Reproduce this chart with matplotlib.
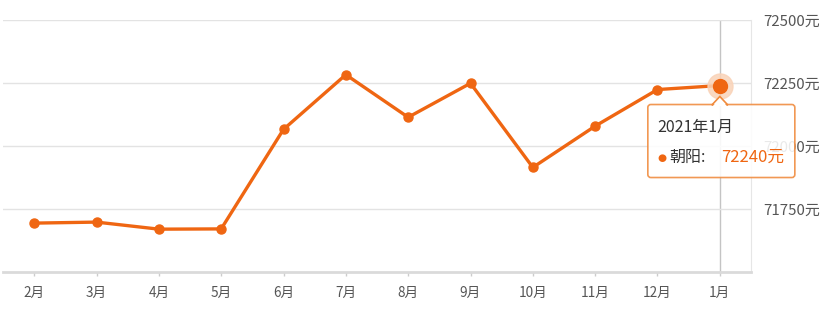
import matplotlib
matplotlib.use("Agg")
import matplotlib.pyplot as plt
from matplotlib.patches import FancyBboxPatch, Polygon
from matplotlib.transforms import IdentityTransform

plt.rcParams['font.family'] = ['Noto Sans CJK SC', 'DejaVu Sans']

# data
months = ['2月', '3月', '4月', '5月', '6月', '7月', '8月', '9月', '10月', '11月', '12月', '1月']
prices = [71694, 71698, 71670, 71671, 72066, 72283, 72114, 72249, 71915, 72079, 72224, 72240]
y_ticks = [71500, 71750, 72000, 72250, 72500]
district = '朝阳'
hover_label = '2021年1月'

ORANGE = '#ef6612'
TEXT = '#555555'
W, H = 827, 310

fig = plt.figure(figsize=(W / 100, H / 100), dpi=100)
ax = fig.add_axes([3 / W, 1 - 272 / H, 748 / W, 252 / H])
x = list(range(len(months)))

ax.set_xlim(-0.5, len(months) - 0.5)
ax.set_ylim(y_ticks[0], y_ticks[-1])
ax.set_xticks(x)
ax.set_xticklabels(months, fontsize=9.8, color=TEXT)
ax.set_yticks(y_ticks[1:])
ax.set_yticklabels([f'{v}元' for v in y_ticks[1:]], fontsize=10.8, color=TEXT)
ax.yaxis.tick_right()
ax.tick_params(axis='y', length=0, pad=9)
ax.tick_params(axis='x', length=3, width=1, color='#cccccc', pad=7)
ax.grid(axis='y', color='#e3e3e3', linewidth=1)
for s in ['top', 'left']:
    ax.spines[s].set_visible(False)
ax.spines['right'].set_color('#e6e6e6')
ax.spines['bottom'].set_color('#dadada')
ax.spines['bottom'].set_linewidth(2)

# hover crosshair
ax.axvline(x[-1], color='#c4c4c4', linewidth=1, zorder=1)

ax.plot(x, prices, color=ORANGE, linewidth=2.4, marker='o', markersize=6.5, zorder=3)
ax.plot(x[-1], prices[-1], 'o', markersize=18, color='#f9d3b8', alpha=0.85, zorder=4)
ax.plot(x[-1], prices[-1], 'o', markersize=10, color=ORANGE, zorder=5)

# tooltip, placed relative to the hovered point (display pixels)
fig.canvas.draw()
px, py = ax.transData.transform((x[-1], prices[-1]))
ident = IdentityTransform()
left, right = px - 72, px + 75
top, bottom = py - 19, py - 92
box = FancyBboxPatch((left, bottom), right - left, top - bottom,
                     boxstyle='round,pad=0,rounding_size=3', transform=ident,
                     facecolor='white', edgecolor='#f08a3c', linewidth=1.2,
                     alpha=0.88, zorder=10)
fig.patches.append(box)
tri = Polygon([(px - 8, top - 0.5), (px, top + 8), (px + 8, top - 0.5)], closed=True,
              transform=ident, facecolor='white', edgecolor='#f08a3c',
              linewidth=1.2, zorder=11)
fig.patches.append(tri)
cover = Polygon([(px - 7, top - 1.5), (px + 7, top - 1.5), (px, top + 6)], closed=True,
                transform=ident, facecolor='white', edgecolor='none', zorder=12)
fig.patches.append(cover)

fig.text(left + 9, top - 23, hover_label, transform=ident, fontsize=11.5,
         color='#333333', va='center', ha='left', zorder=13)
fig.text(left + 14, top - 53, '●', transform=ident, fontsize=7.5, color=ORANGE,
         va='center', ha='center', family='DejaVu Sans', zorder=13)
fig.text(left + 21, top - 53, f'{district}:', transform=ident, fontsize=11.5,
         color='#333333', va='center', ha='left', zorder=13)
fig.text(left + 73, top - 53, f'{prices[-1]}元', transform=ident, fontsize=12,
         color=ORANGE, va='center', ha='left', zorder=13)

fig.savefig('out.png', dpi=100)
